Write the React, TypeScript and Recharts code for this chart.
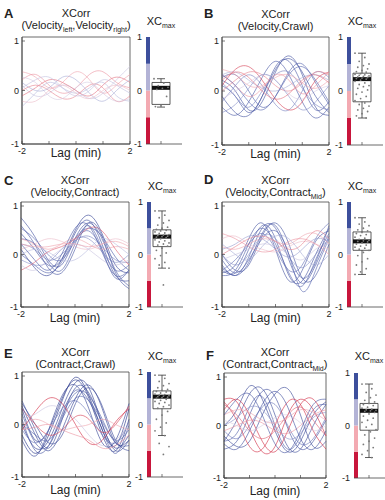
import React from 'react';
import {
    LineChart,
    Line,
    ComposedChart,
    Scatter,
    XAxis,
    YAxis,
    ReferenceArea,
    ReferenceLine
} from 'recharts';

// lag axis (min) shared by every cross-correlation curve
const lags = [-2, -1.5, -1, -0.5, 0, 0.5, 1, 1.5, 2];
const xTicks = [-2, -1, 0, 1, 2];
const yTicks = [-1, 0, 1];

// colour bar bands
const bandEdges = [-1, -0.5, 0, 0.5, 1];
const bandColors = ['#c8163c', '#f3aab2', '#b3b3d6', '#3d4f9c'];

// A: XCorr(Velocity_left, Velocity_right)
const curvesA = [
    [0.35, 0.25, 0.05, 0.15, 0.35, 0.2, -0.05, 0.1, 0.3],
    [0.2, 0.3, 0.1, -0.05, 0.05, 0.3, 0.35, 0.15, 0.05],
    [0.1, -0.1, -0.05, 0.1, 0.0, -0.15, -0.05, 0.2, 0.45],
    [-0.3, -0.05, 0.15, 0.05, -0.05, 0.05, 0.15, -0.1, -0.2],
    [0.0, 0.1, 0.0, -0.15, -0.1, 0.1, 0.05, -0.2, -0.1],
    [0.25, 0.15, -0.1, -0.15, 0.05, 0.15, -0.05, -0.2, -0.15],
    [-0.1, 0.05, 0.2, 0.15, 0.0, -0.1, 0.1, 0.25, 0.15],
    [0.15, 0.0, 0.05, 0.25, 0.2, -0.05, -0.2, 0.0, 0.2],
    [-0.2, -0.2, 0.0, 0.1, -0.05, -0.15, 0.0, 0.1, 0.0],
    [0.05, 0.2, 0.25, 0.05, -0.1, 0.0, 0.2, 0.1, -0.05]
];
const xcA = [-0.1, -0.15, 0.1, 0.15, -0.2, 0.05, -0.25, 0.2, -0.05, 0.12];
const pointsA = [0.22, 0.14, 0.09, 0.06, 0.04, 0.02, -0.11, -0.27, -0.3];
const boxA = [-0.31, -0.26, 0.05, 0.15, 0.22];

// B: XCorr(Velocity, Crawl)
const curvesB = [
    [0.2, 0.0, -0.35, -0.2, 0.35, 0.65, 0.3, -0.3, -0.45],
    [0.1, -0.1, -0.4, -0.1, 0.45, 0.55, 0.1, -0.35, -0.2],
    [-0.3, -0.45, -0.2, 0.25, 0.55, 0.3, -0.2, -0.5, -0.3],
    [0.25, 0.3, 0.0, -0.3, -0.1, 0.35, 0.5, 0.15, -0.25],
    [-0.2, 0.1, 0.3, 0.1, -0.25, -0.35, 0.0, 0.35, 0.25],
    [0.15, -0.1, -0.3, 0.0, 0.3, 0.35, 0.05, -0.25, -0.35],
    [0.3, 0.35, 0.2, 0.05, 0.0, 0.1, 0.25, 0.3, 0.2],
    [0.1, 0.4, 0.45, 0.2, -0.15, -0.35, -0.2, 0.2, 0.35],
    [0.4, 0.3, 0.1, 0.1, 0.25, 0.3, 0.15, 0.05, 0.2],
    [0.3, 0.1, -0.1, 0.05, 0.3, 0.2, -0.05, 0.1, 0.35],
    [0.0, 0.2, 0.35, 0.3, 0.1, 0.0, 0.15, 0.35, 0.3],
    [-0.15, 0.0, 0.15, 0.3, 0.2, -0.05, -0.15, 0.0, 0.1],
    [-0.4, -0.25, 0.05, 0.3, 0.2, -0.1, -0.35, -0.2, 0.1],
    [-0.1, -0.4, -0.45, -0.1, 0.4, 0.6, 0.35, -0.1, -0.4],
    [0.2, 0.35, 0.25, 0.0, -0.15, -0.05, 0.2, 0.3, 0.15],
    [0.3, 0.1, -0.2, -0.35, -0.1, 0.3, 0.45, 0.2, -0.2]
];
const xcB = [0.65, 0.55, 0.55, 0.5, 0.35, 0.35, 0.2, -0.4, -0.1, -0.15, -0.2, 0.05, 0.3, 0.6, -0.25, 0.45];
const pointsB = [0.7, 0.62, 0.55, 0.5, 0.47, 0.44, 0.41, 0.38, 0.36, 0.35, 0.32, 0.31, 0.3, 0.29, 0.28, 0.27, 0.26, 0.25, 0.24, 0.23, 0.22, 0.2, 0.18, 0.15, 0.12, 0.1, 0.08, 0.05, 0.02, -0.02, -0.06, -0.1, -0.14, -0.18, -0.22, -0.25, -0.28, -0.32, -0.35, -0.38, -0.42, -0.46, -0.5];
const boxB = [-0.5, -0.2, 0.22, 0.33, 0.7];

// C: XCorr(Velocity, Contract)
const curvesC = [
    [0.4, 0.1, -0.2, -0.1, 0.4, 0.65, 0.2, -0.4, -0.5],
    [0.7, 0.35, -0.1, -0.2, 0.3, 0.6, 0.3, -0.3, -0.6],
    [0.1, -0.25, -0.4, -0.1, 0.45, 0.75, 0.4, -0.2, -0.35],
    [0.3, 0.2, -0.15, -0.3, 0.2, 0.55, 0.1, -0.45, -0.3],
    [0.0, -0.2, -0.35, -0.15, 0.3, 0.5, 0.35, -0.05, -0.3],
    [0.5, 0.3, 0.0, -0.1, 0.25, 0.45, 0.1, -0.3, -0.2],
    [0.2, 0.1, -0.1, 0.0, 0.25, 0.35, 0.15, -0.1, -0.15],
    [-0.1, -0.2, -0.15, 0.1, 0.3, 0.3, 0.05, -0.15, 0.0],
    [0.1, 0.2, 0.3, 0.25, 0.15, 0.1, 0.2, 0.3, 0.2],
    [0.3, 0.2, 0.1, 0.2, 0.3, 0.2, 0.1, 0.15, 0.1],
    [-0.3, -0.15, 0.05, 0.15, 0.3, 0.5, 0.45, 0.1, -0.2],
    [-0.2, -0.3, -0.1, 0.1, 0.2, 0.1, -0.1, -0.2, -0.1],
    [0.55, 0.2, -0.25, -0.35, 0.1, 0.6, 0.35, -0.35, -0.65],
    [0.0, 0.1, 0.05, -0.1, -0.1, 0.1, 0.3, 0.2, 0.0],
    [0.2, -0.1, -0.3, 0.0, 0.5, 0.55, 0.05, -0.4, -0.3],
    [0.2, 0.15, 0.15, 0.2, 0.2, 0.15, 0.2, 0.25, 0.15]
];
const xcC = [0.65, 0.6, 0.75, 0.55, 0.5, 0.45, 0.35, 0.3, -0.05, -0.1, -0.3, 0.1, 0.6, 0.15, 0.55, -0.1];
const pointsC = [0.83, 0.75, 0.7, 0.65, 0.6, 0.56, 0.52, 0.5, 0.48, 0.46, 0.45, 0.43, 0.41, 0.4, 0.38, 0.37, 0.36, 0.35, 0.34, 0.33, 0.32, 0.3, 0.28, 0.26, 0.24, 0.22, 0.2, 0.18, 0.16, 0.12, 0.08, 0.03, -0.02, -0.08, -0.15, -0.2, -0.26, -0.58];
const boxC = [-0.26, 0.15, 0.34, 0.47, 0.83];

// D: XCorr(Velocity, Contract_Mid)
const curvesD = [
    [-0.3, -0.35, 0.1, 0.55, 0.3, -0.4, -0.5, 0.0, 0.5],
    [-0.2, -0.4, -0.05, 0.5, 0.5, -0.1, -0.55, -0.2, 0.35],
    [0.0, -0.3, -0.2, 0.35, 0.6, 0.2, -0.45, -0.4, 0.2],
    [-0.35, -0.2, 0.3, 0.6, 0.1, -0.5, -0.3, 0.25, 0.45],
    [-0.1, -0.35, -0.1, 0.3, 0.45, 0.0, -0.7, -0.3, 0.3],
    [-0.3, -0.1, 0.2, 0.4, 0.1, -0.3, -0.2, 0.3, 0.6],
    [0.0, -0.2, 0.0, 0.35, 0.3, -0.05, -0.25, 0.0, 0.3],
    [0.1, 0.2, 0.35, 0.3, 0.1, -0.05, 0.1, 0.3, 0.25],
    [0.3, 0.35, 0.2, 0.1, 0.05, 0.15, 0.25, 0.2, 0.1],
    [0.15, 0.1, 0.2, 0.3, 0.25, 0.2, 0.35, 0.4, 0.2],
    [0.4, 0.3, 0.15, 0.05, 0.1, 0.25, 0.3, 0.2, 0.0],
    [-0.1, 0.0, 0.1, 0.2, 0.15, 0.0, -0.1, 0.1, 0.2],
    [-0.4, -0.3, 0.2, 0.5, 0.2, -0.35, -0.6, -0.1, 0.4],
    [0.2, 0.0, -0.1, 0.15, 0.35, 0.3, 0.0, -0.2, 0.0],
    [0.0, 0.15, 0.3, 0.35, 0.25, 0.1, 0.2, 0.45, 0.3],
    [-0.25, -0.4, -0.15, 0.4, 0.55, 0.0, -0.45, -0.15, 0.55]
];
const xcD = [0.6, 0.55, 0.6, 0.6, 0.45, 0.4, 0.3, 0.25, -0.05, -0.1, -0.15, 0.1, 0.5, 0.2, -0.2, 0.55];
const pointsD = [0.7, 0.62, 0.58, 0.55, 0.5, 0.47, 0.45, 0.42, 0.4, 0.38, 0.36, 0.33, 0.31, 0.29, 0.27, 0.26, 0.25, 0.24, 0.22, 0.2, 0.18, 0.16, 0.14, 0.12, 0.1, 0.08, 0.04, -0.02, -0.08, -0.14, -0.2, -0.27, -0.33, -0.38];
const boxD = [-0.38, 0.08, 0.25, 0.43, 0.7];

// E: XCorr(Contract, Crawl)
const curvesE = [
    [0.3, -0.3, -0.1, 0.5, 0.85, 0.5, -0.2, -0.5, 0.1],
    [0.0, -0.45, -0.3, 0.3, 0.8, 0.7, 0.0, -0.45, -0.2],
    [0.45, -0.1, -0.45, 0.1, 0.7, 0.6, 0.0, -0.5, -0.3],
    [0.1, -0.5, -0.4, 0.2, 0.65, 0.45, -0.1, -0.55, 0.0],
    [-0.2, -0.55, -0.2, 0.45, 0.9, 0.55, -0.1, -0.4, 0.3],
    [0.4, 0.0, -0.35, -0.2, 0.4, 0.7, 0.35, -0.3, -0.5],
    [-0.3, -0.6, -0.1, 0.55, 0.75, 0.3, -0.35, -0.3, 0.4],
    [0.2, -0.35, -0.4, 0.15, 0.6, 0.55, 0.1, -0.35, -0.4],
    [0.0, -0.2, -0.3, 0.1, 0.5, 0.45, 0.05, -0.3, -0.1],
    [-0.1, -0.35, -0.1, 0.3, 0.45, 0.2, -0.2, -0.35, 0.05],
    [-0.1, 0.25, 0.5, 0.4, 0.0, -0.35, -0.3, 0.05, 0.3],
    [0.3, 0.0, -0.2, -0.1, 0.15, 0.1, -0.15, 0.0, 0.35],
    [-0.1, -0.05, 0.0, -0.1, -0.2, -0.3, -0.45, -0.4, -0.2],
    [0.0, 0.1, 0.0, -0.1, -0.05, 0.0, 0.1, 0.0, -0.1],
    [0.1, 0.2, 0.35, 0.3, 0.1, -0.2, -0.4, -0.3, 0.0],
    [0.35, -0.2, -0.5, -0.1, 0.5, 0.75, 0.3, -0.35, -0.3]
];
const xcE = [0.85, 0.8, 0.7, 0.65, 0.9, 0.7, 0.75, 0.6, 0.45, 0.4, -0.5, -0.4, -0.15, -0.1, 0.1, 0.75];
const pointsE = [0.94, 0.88, 0.82, 0.78, 0.74, 0.7, 0.67, 0.65, 0.63, 0.62, 0.6, 0.58, 0.57, 0.56, 0.55, 0.54, 0.53, 0.52, 0.51, 0.5, 0.48, 0.46, 0.44, 0.42, 0.4, 0.37, 0.34, 0.31, 0.25, 0.18, 0.1, 0.03, -0.05, -0.12, -0.21, -0.36, -0.42, -0.57];
const boxE = [-0.21, 0.3, 0.53, 0.64, 0.94];

// F: XCorr(Contract, Contract_Mid)
const curvesF = [
    [-0.3, 0.1, 0.6, 0.7, 0.2, -0.4, -0.45, 0.0, 0.4],
    [0.0, 0.3, 0.75, 0.5, -0.1, -0.5, -0.3, 0.2, 0.45],
    [-0.45, -0.3, 0.2, 0.65, 0.55, -0.05, -0.45, -0.3, 0.1],
    [-0.2, -0.4, -0.3, 0.2, 0.6, 0.7, 0.2, -0.4, -0.3],
    [-0.3, -0.15, 0.35, 0.55, 0.0, -0.45, -0.2, 0.3, 0.4],
    [-0.1, -0.25, 0.0, 0.35, 0.4, 0.0, -0.35, -0.25, 0.15],
    [0.0, 0.15, 0.35, 0.3, 0.0, -0.25, -0.15, 0.15, 0.25],
    [0.5, 0.45, -0.05, -0.5, -0.4, 0.2, 0.5, 0.3, -0.2],
    [0.45, 0.1, -0.4, -0.45, 0.0, 0.45, 0.4, -0.1, -0.45],
    [0.3, 0.5, 0.2, -0.3, -0.5, -0.1, 0.4, 0.5, 0.1],
    [0.2, 0.3, 0.25, 0.1, 0.05, 0.15, 0.3, 0.25, 0.1],
    [0.4, 0.2, -0.1, -0.25, -0.1, 0.2, 0.35, 0.1, -0.2],
    [-0.1, 0.0, 0.1, 0.05, -0.1, -0.15, 0.0, 0.2, 0.3],
    [0.2, 0.5, 0.6, 0.2, -0.35, -0.5, -0.1, 0.4, 0.5],
    [0.1, 0.0, -0.1, 0.0, 0.15, 0.2, 0.05, -0.1, 0.0],
    [-0.35, -0.45, -0.1, 0.4, 0.65, 0.35, -0.25, -0.45, -0.1]
];
const xcF = [0.7, 0.75, 0.65, 0.7, 0.55, 0.4, 0.3, -0.5, -0.45, -0.5, -0.1, -0.3, -0.15, 0.6, 0.05, 0.65];
const pointsF = [0.79, 0.7, 0.63, 0.58, 0.53, 0.48, 0.45, 0.42, 0.4, 0.38, 0.35, 0.33, 0.31, 0.3, 0.29, 0.28, 0.27, 0.25, 0.22, 0.18, 0.14, 0.1, 0.06, 0.02, -0.03, -0.08, -0.12, -0.18, -0.24, -0.3, -0.36, -0.42, -0.48, -0.55, -0.61];
const boxF = [-0.61, -0.09, 0.28, 0.42, 0.79];

const FONT = '"Liberation Sans", Arial, sans-serif';
const INK = '#222';

// colour ramp used for the curves: red (neg) -> pale -> blue (pos)
const ramp: [number, number[]][] = [
    [-1, [196, 18, 47]],
    [-0.45, [212, 52, 74]],
    [-0.1, [240, 168, 178]],
    [0, [232, 214, 228]],
    [0.15, [188, 190, 224]],
    [0.45, [92, 106, 178]],
    [1, [28, 42, 128]]
];

function xcColor(v: number) {
    for (let i = 0; i < ramp.length - 1; i++) {
        const [a, ca] = ramp[i];
        const [b, cb] = ramp[i + 1];
        if (v <= b) {
            const t = Math.max(0, (v - a) / (b - a));
            const c = ca.map((k, j) => Math.round(k + (cb[j] - k) * t));
            return `rgb(${c[0]},${c[1]},${c[2]})`;
        }
    }
    return 'rgb(28,42,128)';
}

function toRows(curves: number[][]) {
    return lags.map((lag, j) => {
        const row: Record<string, number> = { lag };
        curves.forEach((c, i) => {
            row['c' + i] = c[j];
        });
        return row;
    });
}

const XTick = (props: any) => {
    const { x, y, payload } = props;
    const v = payload.value;
    return (
        <g>
            <line x1={x} x2={x} y1={y - 3} y2={y - 6} stroke="#444" strokeWidth={0.7} />
            {(v === -2 || v === 2) && (
                <text x={x} y={y} dy={7} textAnchor="middle" fontSize={9} fill={INK} fontFamily={FONT}>
                    {v}
                </text>
            )}
        </g>
    );
};

const YTick = (props: any) => {
    const { x, y, payload } = props;
    return (
        <g>
            <line x1={x + 3} x2={x + 6} y1={y} y2={y} stroke="#444" strokeWidth={0.7} />
            <text x={x} y={y} dy={3} textAnchor="end" fontSize={9} fill={INK} fontFamily={FONT}>
                {payload.value}
            </text>
        </g>
    );
};

function XCorrPlot({ curves, xc, w, h }: { curves: number[][]; xc: number[]; w: number; h: number }) {
    const data = toRows(curves);
    return (
        <LineChart width={w + 23} height={h + 19} data={data} margin={{ top: 5, right: 5, bottom: 0, left: 0 }}>
            <XAxis
                type="number"
                dataKey="lag"
                domain={[-2, 2]}
                ticks={xTicks}
                tickSize={0}
                tickMargin={3}
                tick={XTick}
                height={14}
                axisLine={{ stroke: '#444', strokeWidth: 0.8 }}
            />
            <YAxis
                type="number"
                domain={[-1, 1]}
                ticks={yTicks}
                tickSize={0}
                tickMargin={3}
                tick={YTick}
                width={18}
                axisLine={{ stroke: '#444', strokeWidth: 0.8 }}
            />
            {curves.map((_, i) => (
                <Line
                    key={i}
                    dataKey={'c' + i}
                    type="natural"
                    dot={false}
                    stroke={xcColor(xc[i])}
                    strokeWidth={0.75}
                    strokeOpacity={0.85}
                    isAnimationActive={false}
                />
            ))}
            <ReferenceArea x1={-2} x2={2} y1={-1} y2={1} fill="none" stroke="#444" strokeWidth={0.8} />
        </LineChart>
    );
}

const SIDE_W = 36;

function XcBox({ points, box, h }: { points: number[]; box: number[]; h: number }) {
    const [lo, q1, med, q3, hi] = box;
    const mid = 15;
    // deterministic horizontal jitter around the box centre
    const data = points.map((v, i) => ({ x: mid + (((i * 7) % 11) - 5) * 1.4, y: v }));
    return (
        <ComposedChart width={SIDE_W + 20} height={h + 19} margin={{ top: 5, right: 2, bottom: 0, left: 0 }}>
            <XAxis
                type="number"
                dataKey="x"
                domain={[0, SIDE_W]}
                ticks={[mid]}
                tickSize={0}
                tickMargin={3}
                tick={(p: any) => (
                    <line x1={p.x} x2={p.x} y1={p.y - 3} y2={p.y - 6} stroke="#444" strokeWidth={0.7} />
                )}
                height={14}
                axisLine={{ stroke: '#444', strokeWidth: 0.8 }}
            />
            <YAxis
                type="number"
                dataKey="y"
                domain={[-1, 1]}
                ticks={yTicks}
                tickSize={0}
                tickMargin={4}
                tick={{ fontSize: 9, fill: INK, fontFamily: FONT }}
                width={18}
                axisLine={false}
            />
            {bandColors.map((c, i) => (
                <ReferenceArea
                    key={i}
                    x1={0}
                    x2={4}
                    y1={bandEdges[i]}
                    y2={bandEdges[i + 1]}
                    fill={c}
                    fillOpacity={1}
                    stroke="none"
                />
            ))}
            <ReferenceLine segment={[{ x: mid, y: q3 }, { x: mid, y: hi }]} stroke="#333" strokeWidth={0.8} />
            <ReferenceLine segment={[{ x: mid, y: lo }, { x: mid, y: q1 }]} stroke="#333" strokeWidth={0.8} />
            <ReferenceLine segment={[{ x: mid - 4, y: hi }, { x: mid + 4, y: hi }]} stroke="#333" strokeWidth={0.8} />
            <ReferenceLine segment={[{ x: mid - 4, y: lo }, { x: mid + 4, y: lo }]} stroke="#333" strokeWidth={0.8} />
            <ReferenceArea x1={mid - 9} x2={mid + 9} y1={q1} y2={q3} fill="#fff" fillOpacity={1} stroke="#333" strokeWidth={0.8} />
            <ReferenceLine segment={[{ x: mid - 9, y: med }, { x: mid + 9, y: med }]} stroke="#111" strokeWidth={4} />
            <Scatter
                data={data}
                dataKey="y"
                isAnimationActive={false}
                shape={(p: any) => <circle cx={p.cx} cy={p.cy} r={0.9} fill="#7a7a7a" />}
            />
        </ComposedChart>
    );
}

const Sub = ({ children }: { children: React.ReactNode }) => (
    <span style={{ fontSize: 7, position: 'relative', top: 3, color: INK }}>{children}</span>
);

const panels = [
    {
        letter: 'A', curves: curvesA, xc: xcA, points: pointsA, box: boxA,
        sub: <>(Velocity<Sub>left</Sub>,Velocity<Sub>right</Sub>)</>,
        left: 22, top: 37, w: 108, h: 107, cb: 146, letterX: 4, letterY: 14, titleY: 14, xcY: 22, lagY: 153
    },
    {
        letter: 'B', curves: curvesB, xc: xcB, points: pointsB, box: boxB,
        sub: <>(Velocity,Crawl)</>,
        left: 222, top: 37, w: 107, h: 108, cb: 347, letterX: 204, letterY: 14, titleY: 15, xcY: 22, lagY: 154
    },
    {
        letter: 'C', curves: curvesC, xc: xcC, points: pointsC, box: boxC,
        sub: <>(Velocity,Contract)</>,
        left: 21, top: 202, w: 108, h: 105, cb: 147, letterX: 4, letterY: 181, titleY: 181, xcY: 187, lagY: 318
    },
    {
        letter: 'D', curves: curvesD, xc: xcD, points: pointsD, box: boxD,
        sub: <>(Velocity,Contract<Sub>Mid</Sub>)</>,
        left: 222, top: 202, w: 107, h: 105, cb: 347, letterX: 204, letterY: 180, titleY: 181, xcY: 187, lagY: 318
    },
    {
        letter: 'E', curves: curvesE, xc: xcE, points: pointsE, box: boxE,
        sub: <>(Contract,Crawl)</>,
        left: 22, top: 372, w: 107, h: 105, cb: 147, letterX: 4, letterY: 354, titleY: 353, xcY: 357, lagY: 490
    },
    {
        letter: 'F', curves: curvesF, xc: xcF, points: pointsF, box: boxF,
        sub: <>(Contract,Contract<Sub>Mid</Sub>)</>,
        left: 224, top: 373, w: 102, h: 105, cb: 354, letterX: 206, letterY: 356, titleY: 353, xcY: 357, lagY: 491
    }
];

const text = (x: number, y: number, size: number, content: React.ReactNode, extra: React.CSSProperties = {}) => (
    <div
        style={{
            position: 'absolute',
            left: x - 100,
            top: y - size * 0.6,
            width: 200,
            textAlign: 'center',
            fontSize: size,
            lineHeight: `${size * 1.2}px`,
            fontFamily: FONT,
            color: INK,
            whiteSpace: 'nowrap',
            ...extra
        }}
    >
        {content}
    </div>
);

export default function App() {
    return (
        <div style={{ position: 'absolute', left: 0, top: 0, width: 385, height: 500, background: '#fff', overflow: 'hidden' }}>
            {panels.map((p) => {
                const cx = p.left + p.w / 2;
                return (
                    <React.Fragment key={p.letter}>
                        <div style={{ position: 'absolute', left: p.left - 18, top: p.top - 5 }}>
                            <XCorrPlot curves={p.curves} xc={p.xc} w={p.w} h={p.h} />
                        </div>
                        <div style={{ position: 'absolute', left: p.cb - 18, top: p.top - 5 }}>
                            <XcBox points={p.points} box={p.box} h={p.h} />
                        </div>
                        {text(p.letterX + 4, p.letterY, 13, p.letter, { fontWeight: 'bold', textAlign: 'left', left: p.letterX })}
                        {text(cx, p.titleY, 11, 'XCorr')}
                        {text(cx, p.titleY + 12, 11, p.sub)}
                        {text(p.cb + 15, p.xcY, 11, <>XC<Sub>max</Sub></>)}
                        {text(cx, p.lagY, 12, 'Lag (min)')}
                    </React.Fragment>
                );
            })}
        </div>
    );
}
